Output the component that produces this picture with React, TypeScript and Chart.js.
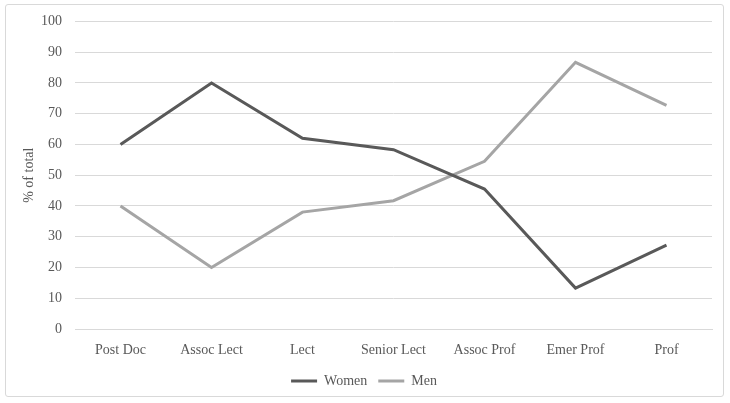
import React, { useEffect, useRef } from "react";
import { Chart, registerables } from "chart.js";

Chart.register(...registerables);

const categories = ["Post Doc", "Assoc Lect", "Lect", "Senior Lect", "Assoc Prof", "Emer Prof", "Prof"];
const women = [60, 80, 62, 58.3, 45.5, 13.3, 27.3];
const men = [40, 20, 38, 41.7, 54.5, 86.7, 72.7];
const yTicks = [0, 10, 20, 30, 40, 50, 60, 70, 80, 90, 100];

const FONT = "'Liberation Serif', 'DejaVu Serif', serif";
const TEXT = "#595959";

export default function App() {
  const ref = useRef<HTMLCanvasElement | null>(null);
  useEffect(() => {
    if (!ref.current) return;
    const chart = new Chart(ref.current, {
      type: "line",
      data: {
        labels: categories,
        datasets: [
          { label: "Women", data: women, borderColor: "#595959", backgroundColor: "#595959", borderWidth: 3, pointRadius: 0, tension: 0 },
          { label: "Men", data: men, borderColor: "#A5A5A5", backgroundColor: "#A5A5A5", borderWidth: 3, pointRadius: 0, tension: 0 },
        ],
      },
      options: {
        animation: false,
        responsive: false,
        maintainAspectRatio: false,
        layout: { padding: { left: 16, right: 18, top: 13, bottom: 5 } },
        plugins: {
          tooltip: { enabled: false },
          legend: {
            position: "bottom",
            labels: {
              font: { family: FONT, size: 14 },
              color: TEXT,
              usePointStyle: true,
              pointStyle: "line",
              pointStyleWidth: 26,
              padding: 11,
            },
          },
        },
        scales: {
          x: {
            offset: true,
            grid: { display: false, drawTicks: false },
            border: { display: true, color: "#d9d9d9", width: 1 },
            ticks: { font: { family: FONT, size: 14 }, color: TEXT, padding: 13, maxRotation: 0 },
            afterFit: (s: any) => { s.height = 34; },
          },
          y: {
            min: 0,
            max: 100,
            afterBuildTicks: (s: any) => { s.ticks = yTicks.map((v) => ({ value: v })); },
            grid: { color: "#d9d9d9", lineWidth: 1, drawTicks: false },
            border: { display: false },
            ticks: { font: { family: FONT, size: 14 }, color: TEXT, padding: 13 },
            title: { display: true, text: "% of total", font: { family: FONT, size: 14 }, color: TEXT, padding: 5 },
            afterFit: (s: any) => { s.width = 59; },
          },
        },
      },
    });
    return () => chart.destroy();
  }, []);
  return (
    <div style={{ position: "fixed", left: 0, top: 0, width: 730, height: 403, background: "#fff" }}>
      <div style={{ position: "absolute", left: 5, top: 4, width: 719, height: 393, border: "1px solid #d9d9d9", borderRadius: 3, boxSizing: "border-box" }} />
      <canvas ref={ref} width={730} height={403} style={{ position: "absolute", left: 0, top: 0 }} />
    </div>
  );
}
